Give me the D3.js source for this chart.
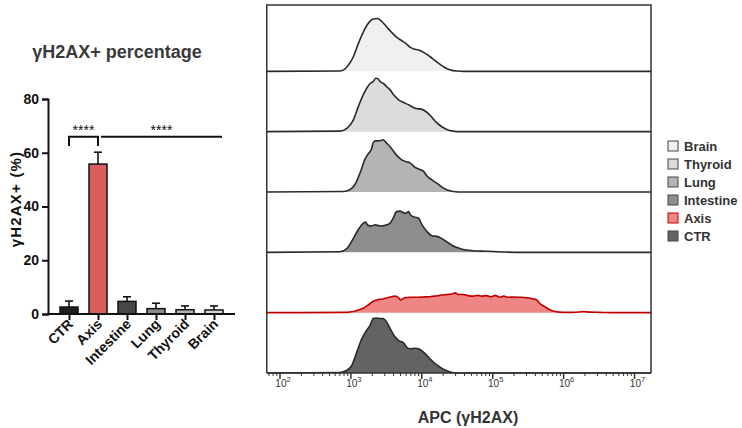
<!DOCTYPE html>
<html><head><meta charset="utf-8">
<script src="https://cdn.jsdelivr.net/npm/d3@7"></script>
<style>body{margin:0;background:#fff} svg{display:block;font-family:Arial,"Liberation Sans",Helvetica,sans-serif}</style>
</head><body><svg id="c" width="742" height="428"></svg>
<script>
// ---------- bar chart data ----------
const barCategories = ["CTR","Axis","Intestine","Lung","Thyroid","Brain"];
const barValues = [2.6, 55.8, 4.7, 2.0, 1.6, 1.5];
const barErrors = [2.2, 4.4, 1.7, 2.0, 1.4, 1.5];
const barColors = ["#1e1e1e","#d95f5f","#474747","#8a8a8a","#b4b4b4","#d9d9d9"];
const barYTicks = [0,20,40,60,80];
const sigLabels = ["****","****"];

// ---------- histogram data (x = log10 APC, y = % of max) ----------
const histCategories = ["Brain","Thyroid","Lung","Intestine","Axis","CTR"];
const histFill = ["#f0f0f0","#dcdcdc","#b4b4b4","#8e8e8e","#f08585","#636363"];
const histStroke = ["#2a2a2a","#2a2a2a","#2a2a2a","#2a2a2a","#c00000","#2a2a2a"];
const histTickExponents = [2,3,4,5,6,7];
const brainCurve = [[1.82,0],[2.85,0.5],[2.95,8],[3.04,26],[3.11,50],[3.18,71],[3.25,87],[3.32,95],[3.38,96],[3.44,91],[3.51,81],[3.58,71],[3.65,62],[3.72,56],[3.79,50],[3.84,44],[3.91,40],[3.98,38],[4.05,33],[4.12,27],[4.19,20],[4.26,13],[4.33,7],[4.40,3],[4.50,0.5],[4.6,0],[7.24,0]];
const thyroidCurve = [[1.82,0],[2.85,1],[2.95,6],[3.04,21],[3.11,45],[3.18,67],[3.23,79],[3.28,88],[3.32,91],[3.36,97],[3.39,96],[3.42,91],[3.46,88],[3.51,82],[3.56,76],[3.61,67],[3.68,58],[3.75,53],[3.82,49],[3.89,44],[3.93,42],[4.00,41],[4.08,35],[4.15,26],[4.22,16],[4.29,9],[4.36,4],[4.45,1],[4.55,0],[7.24,0]];
const lungCurve = [[1.82,0],[2.90,1],[2.99,4],[3.07,15],[3.14,36],[3.21,61],[3.25,69],[3.30,79],[3.32,89],[3.35,93],[3.39,93],[3.44,94],[3.46,95],[3.51,89],[3.58,79],[3.65,67],[3.72,59],[3.79,55],[3.84,53],[3.91,45],[3.98,41],[4.03,38],[4.08,29],[4.15,22],[4.22,16],[4.29,9],[4.36,4],[4.45,1],[4.59,0],[7.24,0]];
const intestineCurve = [[1.82,0],[2.85,1],[2.95,7],[3.04,25],[3.11,41],[3.16,50],[3.21,55],[3.25,49],[3.30,48],[3.35,50],[3.42,48],[3.49,49],[3.56,53],[3.61,64],[3.65,74],[3.70,75],[3.75,72],[3.78,71],[3.82,74],[3.85,68],[3.91,64],[3.96,62],[4.01,50],[4.08,38],[4.15,30],[4.22,29],[4.29,25],[4.36,19],[4.43,13],[4.50,9],[4.59,5],[4.73,3],[4.92,2],[5.20,0.5],[5.39,0],[7.24,0]];
const axisCurve = [[1.82,0],[2.95,0.5],[3.04,2],[3.11,5],[3.18,8],[3.25,14],[3.30,19],[3.37,23],[3.46,25],[3.56,28.5],[3.63,30],[3.68,27],[3.71,23],[3.76,27],[3.84,28],[3.93,28],[4.03,28.5],[4.12,29],[4.19,30],[4.26,31.5],[4.36,33],[4.43,34],[4.48,36],[4.52,33],[4.59,33],[4.66,31],[4.73,30],[4.80,31.5],[4.85,30],[4.92,31],[4.99,29],[5.04,31.5],[5.11,28],[5.16,30],[5.23,28],[5.30,28.5],[5.39,28],[5.49,27],[5.58,25],[5.63,23],[5.67,17],[5.74,11],[5.82,5],[5.89,2],[6.00,0.5],[6.14,0.5],[6.29,2],[6.38,1],[6.52,0.5],[6.66,0],[7.24,0]];
const ctrCurve = [[1.82,0],[2.85,1],[2.95,5],[3.02,14],[3.09,38],[3.16,62],[3.23,78],[3.28,87],[3.32,99],[3.37,100],[3.42,99],[3.46,99],[3.51,93],[3.56,81],[3.61,69],[3.68,59],[3.75,55],[3.80,46],[3.84,44],[3.91,45],[3.96,44],[4.03,38],[4.10,29],[4.17,20],[4.24,13],[4.31,7],[4.38,3],[4.45,0.5],[4.55,0],[7.24,0]];
const histCurves = [brainCurve, thyroidCurve, lungCurve, intestineCurve, axisCurve, ctrCurve];

const svg = d3.select("#c");

// ================= BAR CHART =================
const by = d3.scaleLinear().domain([0,80]).range([314,99]);
const bx = d3.scalePoint().domain(barCategories).range([69,214]);
const barW = 18;

svg.append("text").attr("x",117).attr("y",58).attr("text-anchor","middle")
  .attr("font-size",18).attr("font-weight","bold").attr("fill","#3a3a3a").text("γH2AX+ percentage");

// y axis
const yAxis = d3.axisLeft(by).tickValues(barYTicks).tickSize(6).tickPadding(3);
const gy = svg.append("g").attr("transform","translate(48,0)").call(yAxis);
gy.select(".domain").attr("stroke","#111").attr("stroke-width",2);
gy.selectAll(".tick line").attr("stroke","#111").attr("stroke-width",2);
gy.selectAll(".tick text").attr("font-size",14).attr("font-weight","bold").attr("fill","#111").attr("font-family","Arial, Liberation Sans, sans-serif");

svg.append("text").attr("transform","translate(21,199) rotate(-90)").attr("text-anchor","middle")
  .attr("font-size",15).attr("font-weight","bold").attr("fill","#111").attr("letter-spacing","1.2px").text("γH2AX+ (%)");

// bars
barCategories.forEach((c,i)=>{
  const cx = bx(c);
  svg.append("line").attr("x1",cx).attr("x2",cx).attr("y1",by(barValues[i])).attr("y2",by(barValues[i]+barErrors[i])).attr("stroke","#111").attr("stroke-width",1.6);
  svg.append("line").attr("x1",cx-4).attr("x2",cx+4).attr("y1",by(barValues[i]+barErrors[i])).attr("y2",by(barValues[i]+barErrors[i])).attr("stroke","#111").attr("stroke-width",1.6);
  svg.append("rect").attr("x",cx-barW/2).attr("width",barW).attr("y",by(barValues[i])).attr("height",by(0)-by(barValues[i]))
    .attr("fill",barColors[i]).attr("stroke","#111").attr("stroke-width",1.5);
});
// x axis
const xAxisBar = d3.axisBottom(bx).tickSize(6).tickFormat("");
const gxb = svg.append("g").attr("transform","translate(0,314)").call(xAxisBar);
gxb.select(".domain").attr("d","M48,0H235").attr("stroke","#111").attr("stroke-width",2);
gxb.selectAll(".tick line").attr("stroke","#111").attr("stroke-width",2);
barCategories.forEach(c=>{
  svg.append("text").attr("transform",`translate(${bx(c)+5},325) rotate(-45)`).attr("text-anchor","end")
    .attr("font-size",14).attr("font-weight","bold").attr("fill","#111").text(c);
});

// significance
const sigY = by(66);
const legY = by(62.5);
svg.append("path").attr("d",`M${bx("CTR")},${legY}V${sigY}H${bx("Axis")}V${legY}`).attr("fill","none").attr("stroke","#111").attr("stroke-width",2);
svg.append("line").attr("x1",bx("Axis")+3).attr("x2",bx("Brain")+8).attr("y1",sigY).attr("y2",sigY).attr("stroke","#111").attr("stroke-width",2);
svg.append("text").attr("x",(bx("CTR")+bx("Axis"))/2).attr("y",sigY-2).attr("text-anchor","middle").attr("font-size",14).attr("fill","#111").text(sigLabels[0]);
svg.append("text").attr("x",(bx("Axis")+3+bx("Brain")+8)/2).attr("y",sigY-2).attr("text-anchor","middle").attr("font-size",14).attr("fill","#111").text(sigLabels[1]);

// ================= HISTOGRAMS =================
const hx = d3.scaleLinear().domain([2,7]).range([279.5,634]);
const frameL = hx(1.82), frameR = hx(7.24);
const hp = d3.scaleBand().domain(histCategories).range([11,373]);
const hy = d3.scaleLinear().domain([0,100]).range([0,55]);

svg.append("defs").append("clipPath").attr("id","fr").append("rect")
  .attr("x",frameL).attr("y",0).attr("width",frameR-frameL).attr("height",380);

const gh = svg.append("g").attr("clip-path","url(#fr)");
histCategories.forEach((c,i)=>{
  const base = hp(c)+hp.bandwidth();
  const area = d3.area().x(d=>hx(d[0])).y0(base).y1(d=>base-hy(d[1])).curve(d3.curveMonotoneX);
  const line = d3.line().x(d=>hx(d[0])).y(d=>base-hy(d[1])).curve(d3.curveMonotoneX);
  gh.append("path").attr("d",area(histCurves[i])).attr("fill",histFill[i]);
  gh.append("path").attr("d",line(histCurves[i])).attr("fill","none").attr("stroke",histStroke[i]).attr("stroke-width",1.6);
});

// frame
svg.append("path").attr("d",`M${frameL},373V5H${frameR}V373`).attr("fill","none").attr("stroke","#333").attr("stroke-width",1.5);

// log axis
const lx = d3.scaleLog().domain([Math.pow(10,1.82),Math.pow(10,7.24)]).range([frameL,frameR]);
const majors = histTickExponents.map(e=>Math.pow(10,e));
const minors = lx.ticks().filter(v=>!majors.some(m=>Math.abs(m-v)/m<1e-6));
const gMin = svg.append("g").attr("transform","translate(0,373)").call(d3.axisBottom(lx).tickValues(minors).tickSize(3).tickFormat(""));
gMin.select(".domain").remove();
gMin.selectAll(".tick line").attr("stroke","#333").attr("stroke-width",1);
const gMaj = svg.append("g").attr("transform","translate(0,373)").call(d3.axisBottom(lx).tickValues(majors).tickSize(6).tickFormat(""));
gMaj.select(".domain").attr("d",`M${frameL},0H${frameR}`).attr("stroke","#333").attr("stroke-width",1.5);
gMaj.selectAll(".tick line").attr("stroke","#333").attr("stroke-width",1.5);
gMaj.selectAll(".tick").each(function(d,i){
  const t = d3.select(this).append("text").attr("y",14).attr("text-anchor","middle").attr("fill","#333").attr("font-size",10).attr("x",3);
  t.append("tspan").text("10");
  t.append("tspan").attr("dy",-5).attr("font-size",7.5).text(histTickExponents[i]);
});
svg.append("text").attr("x",468).attr("y",423).attr("text-anchor","middle")
  .attr("font-size",16).attr("font-weight","bold").attr("fill","#333").text("APC (γH2AX)");

// legend
const lg = svg.append("g");
histCategories.forEach((c,i)=>{
  const y = 146 + i*18;
  lg.append("rect").attr("x",668).attr("y",y-5).attr("width",10).attr("height",10)
    .attr("fill",histFill[i]).attr("stroke", c==="Axis" ? "#c00000" : "#444").attr("stroke-width",1);
  lg.append("text").attr("x",684).attr("y",y+5).attr("font-size",13).attr("font-weight","bold").attr("fill","#333").text(c);
});
</script></body></html>
